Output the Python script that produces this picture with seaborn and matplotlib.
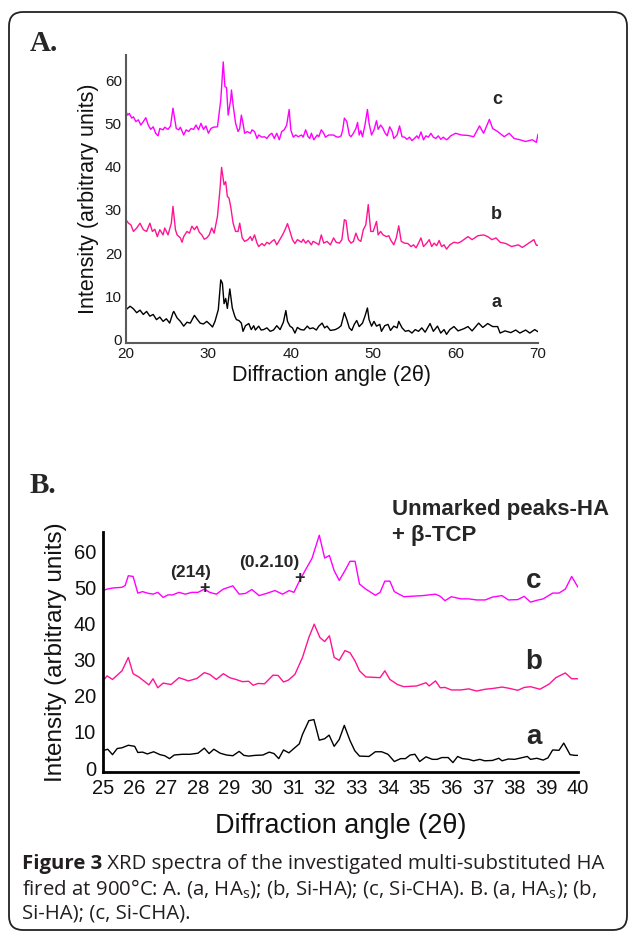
import matplotlib
matplotlib.use('Agg')
import matplotlib.pyplot as plt
from matplotlib.patches import FancyBboxPatch
from matplotlib.transforms import IdentityTransform
import seaborn as sns
import pandas as pd

# ---- panel A: full scan 20-70 deg ----
a_full_x = [20.0, 20.5, 20.9, 21.3, 21.7, 22.1, 22.5, 22.9, 23.3, 23.7,
            24.1, 24.5, 24.9, 25.3, 25.7, 25.8, 26.2, 26.6, 27.0, 27.4,
            27.8, 28.3, 28.6, 29.0, 29.4, 29.8, 30.2, 30.5, 30.8, 31.2,
            31.5, 31.7, 31.9, 32.1, 32.3, 32.6, 32.9, 33.2, 33.4, 33.7,
            34.0, 34.2, 34.5, 34.9, 35.2, 35.5, 35.7, 36.1, 36.4, 36.7,
            37.1, 37.5, 37.9, 38.3, 38.7, 39.1, 39.4, 39.6, 39.9, 40.2,
            40.5, 40.8, 41.2, 41.6, 42.0, 42.3, 42.7, 43.1, 43.4, 43.8,
            44.1, 44.4, 44.8, 45.4, 45.8, 46.1, 46.5, 46.8, 47.1, 47.4,
            47.7, 48.0, 48.3, 48.7, 49.0, 49.3, 49.5, 49.8, 50.1, 50.4,
            50.8, 51.0, 51.4, 51.8, 52.1, 52.5, 52.9, 53.1, 53.5, 53.9,
            54.3, 54.7, 55.1, 55.5, 55.9, 56.3, 56.6, 56.9, 57.3, 57.8,
            58.2, 58.6, 58.9, 59.3, 59.8, 60.3, 61.0, 61.5, 62.0, 62.8,
            63.3, 63.9, 64.5, 65.1, 65.4, 66.0, 66.7, 67.3, 67.8, 68.5,
            69.0, 69.6, 70.0]
a_full_y = [6.9, 7.7, 7.1, 6.2, 6.8, 5.8, 6.5, 5.4, 5.8, 4.6,
            5.2, 4.2, 4.8, 3.8, 6.2, 6.5, 5.0, 4.2, 3.1, 4.0,
            3.8, 5.6, 4.8, 3.8, 3.6, 4.2, 3.5, 2.9, 4.2, 6.9,
            13.8, 13.0, 8.3, 9.5, 7.2, 11.7, 7.3, 5.4, 4.6, 4.4,
            3.8, 1.9, 3.2, 3.7, 2.3, 3.2, 2.2, 3.1, 2.2, 2.3,
            2.7, 1.9, 2.2, 3.2, 2.3, 4.0, 6.7, 4.2, 3.1, 2.7,
            1.5, 2.8, 2.3, 2.2, 3.1, 2.5, 2.7, 2.2, 3.1, 3.8,
            2.7, 3.1, 2.1, 2.3, 2.7, 3.2, 6.2, 4.6, 2.7, 2.1,
            3.5, 4.4, 3.0, 3.8, 5.4, 7.3, 4.6, 3.1, 4.2, 3.1,
            3.5, 1.9, 3.2, 3.5, 2.1, 3.1, 2.7, 4.2, 2.7, 1.9,
            2.1, 1.5, 2.3, 1.9, 2.7, 1.7, 2.7, 3.7, 1.9, 3.1,
            1.5, 2.3, 1.2, 2.3, 3.0, 2.0, 2.5, 3.0, 2.0, 3.8,
            2.8, 3.7, 3.0, 3.0, 1.5, 2.0, 1.6, 2.2, 1.5, 2.2,
            1.5, 2.3, 1.8]

b_full_x = [20.0, 20.3, 20.6, 20.9, 21.3, 21.7, 22.1, 22.5, 22.9, 23.2,
            23.5, 23.8, 24.1, 24.5, 24.7, 25.1, 25.5, 25.7, 26.0, 26.2,
            26.6, 26.8, 27.0, 27.4, 27.7, 28.0, 28.3, 28.6, 28.9, 29.2,
            29.5, 29.8, 30.1, 30.4, 30.7, 31.1, 31.4, 31.6, 31.9, 32.1,
            32.3, 32.5, 32.7, 33.0, 33.3, 33.6, 33.8, 34.1, 34.4, 34.8,
            35.1, 35.3, 35.6, 35.9, 36.1, 36.5, 36.8, 37.1, 37.4, 37.7,
            38.0, 38.3, 38.7, 39.0, 39.3, 39.6, 39.9, 40.2, 40.5, 40.8,
            41.3, 41.5, 41.8, 42.1, 42.5, 42.7, 43.1, 43.4, 43.7, 44.0,
            44.4, 44.8, 45.2, 45.5, 45.9, 46.2, 46.5, 46.7, 47.0, 47.3,
            47.6, 47.9, 48.2, 48.5, 48.8, 49.1, 49.4, 49.7, 50.0, 50.4,
            50.6, 50.9, 51.2, 51.6, 51.9, 52.1, 52.5, 52.8, 53.1, 53.4,
            53.8, 54.2, 54.6, 54.9, 55.2, 55.5, 55.8, 56.1, 56.5, 56.8,
            57.1, 57.4, 57.7, 58.0, 58.3, 58.6, 58.9, 59.3, 59.8, 60.3,
            60.7, 61.5, 62.0, 62.7, 63.4, 63.9, 64.4, 64.9, 65.4, 66.1,
            66.8, 67.6, 68.1, 68.8, 69.5, 69.8, 70.0]
b_full_y = [27.7, 26.9, 26.5, 25.0, 25.8, 26.9, 25.4, 25.0, 26.9, 25.0,
            25.5, 23.8, 25.4, 24.2, 25.8, 24.2, 26.9, 30.8, 25.4, 24.2,
            23.5, 22.5, 23.8, 25.0, 24.6, 26.2, 25.4, 26.2, 24.8, 24.2,
            23.2, 23.5, 24.2, 25.8, 24.6, 28.5, 34.6, 39.8, 35.8, 36.5,
            33.1, 32.7, 30.8, 26.9, 25.0, 25.0, 26.9, 23.5, 22.7, 23.1,
            23.8, 22.9, 24.2, 22.3, 21.5, 22.2, 21.7, 22.5, 22.1, 22.7,
            23.1, 21.9, 23.2, 24.2, 25.4, 26.8, 25.0, 23.1, 22.2, 23.1,
            22.5, 23.2, 22.3, 22.9, 21.9, 22.7, 22.3, 21.9, 24.2, 22.3,
            22.7, 21.9, 23.5, 22.5, 22.3, 23.1, 27.7, 27.5, 23.1, 22.3,
            22.7, 24.6, 23.1, 22.7, 25.4, 26.5, 31.2, 25.0, 25.0, 27.3,
            24.2, 25.0, 24.2, 23.8, 24.0, 23.1, 21.9, 23.5, 26.3, 22.7,
            22.3, 22.2, 21.5, 21.9, 21.2, 22.3, 23.5, 21.5, 22.3, 23.1,
            21.5, 22.3, 21.7, 22.9, 21.5, 21.9, 20.9, 21.9, 22.5, 22.3,
            22.7, 23.8, 23.1, 24.0, 24.2, 23.8, 23.1, 23.5, 22.5, 22.2,
            21.5, 21.9, 21.3, 22.2, 23.1, 21.8, 21.8]

c_full_x = [20.0, 20.2, 20.4, 20.7, 20.9, 21.2, 21.5, 21.8, 22.1, 22.4,
            22.7, 23.0, 23.3, 23.6, 23.9, 24.1, 24.5, 24.7, 25.1, 25.4,
            25.7, 25.8, 26.1, 26.4, 26.6, 27.0, 27.3, 27.6, 27.9, 28.2,
            28.5, 28.8, 29.1, 29.4, 29.7, 30.0, 30.3, 30.6, 31.1, 31.3,
            31.5, 31.8, 32.0, 32.2, 32.4, 32.7, 32.8, 33.0, 33.3, 33.6,
            33.8, 34.0, 34.2, 34.4, 34.7, 35.1, 35.3, 35.6, 35.9, 36.1,
            36.5, 36.8, 37.1, 37.4, 37.7, 38.0, 38.3, 38.6, 38.9, 39.2,
            39.5, 39.8, 40.0, 40.3, 40.6, 40.9, 41.3, 41.5, 41.8, 42.1,
            42.3, 42.5, 42.8, 43.2, 43.4, 43.7, 44.0, 44.2, 44.6, 45.2,
            45.5, 45.8, 46.1, 46.3, 46.5, 46.8, 47.1, 47.3, 47.6, 47.9,
            48.1, 48.3, 48.5, 48.7, 49.0, 49.3, 49.5, 49.8, 50.1, 50.4,
            50.6, 50.9, 51.2, 51.4, 51.7, 52.0, 52.3, 52.5, 52.9, 53.2,
            53.5, 53.8, 54.1, 54.4, 54.7, 55.0, 55.3, 55.5, 55.8, 56.1,
            56.4, 56.7, 57.0, 57.3, 57.6, 57.9, 58.2, 58.5, 58.9, 59.1,
            59.4, 60.0, 60.7, 61.5, 62.2, 62.9, 63.4, 64.1, 64.5, 65.1,
            65.9, 66.5, 67.1, 67.8, 68.5, 69.3, 69.8, 70.0]
c_full_y = [52.7, 51.9, 52.3, 51.2, 51.5, 50.4, 50.8, 49.6, 50.4, 51.3,
            49.6, 48.6, 49.2, 47.7, 47.1, 48.8, 48.5, 49.1, 48.6, 49.4,
            53.5, 52.3, 48.8, 48.5, 49.1, 47.3, 48.5, 48.1, 48.8, 48.6,
            49.6, 48.5, 50.0, 48.6, 49.4, 47.7, 48.8, 49.1, 49.2, 52.3,
            55.4, 64.2, 58.5, 58.3, 51.9, 55.4, 57.7, 54.2, 50.0, 48.1,
            48.8, 51.9, 50.0, 47.7, 48.1, 47.7, 48.5, 48.1, 46.5, 47.3,
            46.8, 46.9, 46.5, 47.3, 47.7, 46.5, 47.7, 46.2, 48.1, 48.5,
            49.6, 53.2, 48.5, 46.8, 47.3, 46.9, 47.3, 46.8, 48.5, 46.9,
            46.5, 47.7, 46.2, 47.3, 46.9, 48.5, 47.7, 46.8, 47.3, 47.3,
            46.9, 46.8, 47.1, 48.5, 51.2, 50.4, 47.3, 46.9, 47.7, 48.8,
            50.2, 47.3, 48.3, 46.9, 49.6, 53.2, 50.0, 47.3, 48.5, 50.6,
            48.6, 49.6, 48.8, 47.9, 47.1, 49.2, 48.1, 46.5, 47.3, 49.4,
            46.9, 46.8, 46.3, 46.8, 46.0, 46.5, 47.1, 46.5, 48.0, 46.2,
            47.1, 46.8, 47.7, 46.8, 46.5, 47.1, 46.3, 46.8, 46.2, 46.5,
            47.1, 47.7, 47.3, 47.2, 46.9, 49.4, 47.7, 50.9, 48.8, 48.1,
            46.9, 47.7, 46.5, 46.2, 45.8, 46.2, 45.6, 47.5]

# ---- panel B: zoom 25-40 deg ----
a_zoom_x = [25.0, 25.15, 25.3, 25.45, 25.6, 25.8, 26.0, 26.1, 26.25, 26.4,
            26.6, 26.8, 26.95, 27.1, 27.25, 27.5, 27.75, 28.0, 28.2, 28.35,
            28.5, 28.7, 28.9, 29.1, 29.3, 29.45, 29.6, 29.8, 30.05, 30.25,
            30.4, 30.55, 30.7, 30.87, 31.2, 31.3, 31.5, 31.66, 31.83, 32.0,
            32.14, 32.3, 32.46, 32.62, 32.8, 32.95, 33.1, 33.4, 33.6, 33.8,
            34.0, 34.2, 34.4, 34.55, 34.7, 34.85, 35.0, 35.2, 35.4, 35.55,
            35.7, 35.9, 36.05, 36.2, 36.35, 36.55, 36.7, 36.9, 37.05, 37.3,
            37.5, 37.6, 37.8, 38.0, 38.2, 38.4, 38.5, 38.7, 38.9, 39.05,
            39.2, 39.4, 39.55, 39.75, 39.9, 40.0]
a_zoom_y = [4.8, 5.2, 3.7, 5.4, 5.6, 6.3, 6.0, 4.3, 4.4, 3.9,
            4.5, 3.7, 3.4, 2.6, 3.6, 3.8, 3.8, 4.1, 5.5, 4.0,
            5.2, 4.1, 3.6, 3.4, 4.6, 3.5, 3.3, 3.5, 3.6, 4.4,
            4.0, 2.6, 5.0, 4.2, 6.7, 9.3, 13.1, 13.4, 7.7, 8.1,
            9.1, 6.0, 7.9, 11.8, 7.6, 4.8, 3.3, 3.2, 4.5, 4.5,
            3.8, 1.8, 2.6, 2.6, 3.6, 3.8, 1.8, 3.1, 2.4, 2.4,
            2.9, 2.9, 1.5, 3.2, 2.6, 2.4, 2.0, 2.4, 2.0, 2.1,
            2.7, 2.0, 2.5, 2.4, 2.8, 3.2, 2.4, 2.7, 2.2, 2.8,
            5.0, 4.9, 6.9, 3.7, 3.5, 3.5]

b_zoom_x = [25.0, 25.13, 25.3, 25.6, 25.8, 25.95, 26.13, 26.45, 26.58, 26.73,
            26.9, 27.15, 27.4, 27.7, 27.97, 28.2, 28.37, 28.58, 28.8, 29.0,
            29.2, 29.4, 29.6, 29.74, 29.9, 30.1, 30.37, 30.53, 30.7, 30.85,
            31.06, 31.3, 31.5, 31.67, 31.85, 32.0, 32.15, 32.3, 32.46, 32.64,
            32.8, 32.96, 33.1, 33.3, 33.75, 33.9, 34.06, 34.3, 34.5, 34.9,
            35.2, 35.3, 35.5, 35.65, 35.8, 36.0, 36.3, 36.55, 36.8, 37.07,
            37.3, 37.6, 37.8, 38.1, 38.3, 38.5, 38.8, 39.1, 39.3, 39.6,
            39.8, 40.0]
b_zoom_y = [24.1, 25.5, 24.5, 26.9, 30.6, 26.1, 25.2, 23.0, 24.7, 22.2,
            23.5, 23.1, 25.0, 24.1, 24.8, 26.4, 25.9, 24.5, 26.1, 25.0,
            24.5, 23.9, 24.0, 22.9, 23.4, 23.3, 25.7, 25.6, 23.8, 24.3,
            25.9, 30.6, 36.1, 39.8, 36.1, 35.0, 36.6, 30.6, 29.8, 32.5,
            31.9, 29.6, 26.9, 25.2, 25.0, 26.9, 24.5, 23.1, 22.5, 22.7,
            23.6, 22.7, 24.1, 22.2, 22.3, 21.6, 21.6, 21.9, 21.3, 21.8,
            22.0, 22.4, 22.1, 21.5, 22.3, 22.5, 21.8, 23.3, 25.0, 26.3,
            24.7, 24.7]

c_zoom_x = [25.0, 25.13, 25.3, 25.6, 25.7, 25.8, 25.95, 26.1, 26.25, 26.4,
            26.58, 26.73, 26.9, 27.05, 27.2, 27.4, 27.6, 27.8, 28.0, 28.2,
            28.37, 28.58, 28.8, 29.1, 29.3, 29.5, 29.7, 29.93, 30.16, 30.43,
            30.67, 30.88, 31.03, 31.2, 31.38, 31.6, 31.83, 32.0, 32.15, 32.3,
            32.46, 32.64, 32.8, 32.96, 33.1, 33.3, 33.6, 33.75, 33.9, 34.06,
            34.2, 34.5, 35.1, 35.5, 35.65, 35.8, 36.0, 36.3, 36.55, 36.8,
            37.07, 37.3, 37.6, 37.8, 38.1, 38.3, 38.5, 38.7, 38.9, 39.2,
            39.4, 39.6, 39.8, 40.0]
c_zoom_y = [49.1, 49.5, 49.8, 50.0, 50.5, 53.2, 53.0, 48.4, 48.8, 48.4,
            48.1, 48.6, 47.2, 47.9, 47.9, 48.6, 48.1, 48.6, 48.6, 49.5,
            48.6, 48.1, 49.5, 50.4, 48.1, 48.3, 49.4, 47.7, 48.3, 49.1,
            48.1, 49.1, 48.6, 51.7, 54.6, 58.0, 64.4, 58.1, 58.8, 54.6,
            51.9, 54.6, 57.2, 57.2, 50.9, 49.5, 47.8, 48.6, 51.7, 51.7,
            48.8, 47.4, 47.7, 48.1, 47.5, 46.3, 47.4, 46.8, 46.8, 46.5,
            46.5, 47.3, 47.7, 46.5, 46.6, 47.5, 45.9, 46.4, 46.8, 48.4,
            48.4, 49.5, 53.0, 50.0]

# beta-TCP reflections marked with "+" in panel B
tcp_labels = ['(214)', '(0.2.10)']
tcp_angles = [28.19, 31.22]
tcp_heights = [49.8, 52.4]

palette = {'a': 'black', 'b': '#FF1493', 'c': '#FF00FF'}


def long_df(series):
    frames = []
    for name, (x, y) in series.items():
        frames.append(pd.DataFrame({'angle': x, 'intensity': y, 'sample': name}))
    return pd.concat(frames, ignore_index=True)


df_full = long_df({'a': (a_full_x, a_full_y), 'b': (b_full_x, b_full_y),
                   'c': (c_full_x, c_full_y)})
df_zoom = long_df({'a': (a_zoom_x, a_zoom_y), 'b': (b_zoom_x, b_zoom_y),
                   'c': (c_zoom_x, c_zoom_y)})

sns.set_theme(style='white')
plt.rcParams['font.family'] = ['Liberation Sans', 'DejaVu Sans']
plt.rcParams['mathtext.fontset'] = 'custom'
plt.rcParams['mathtext.rm'] = 'Open Sans'
plt.rcParams['mathtext.it'] = 'Open Sans:italic'
plt.rcParams['mathtext.bf'] = 'Open Sans:bold'

W, H = 629, 933
fig = plt.figure(figsize=(W / 100, H / 100), dpi=100)


def px_rect(left, top, right, bottom):
    return [left / W, 1 - bottom / H, (right - left) / W, (bottom - top) / H]


ax_a = fig.add_axes(px_rect(126, 55, 538, 343))
ax_b = fig.add_axes(px_rect(103, 532, 578, 772))

sns.lineplot(data=df_full, x='angle', y='intensity', hue='sample', palette=palette,
             estimator=None, sort=False, legend=False, lw=1.0, ax=ax_a)
sns.lineplot(data=df_zoom, x='angle', y='intensity', hue='sample', palette=palette,
             estimator=None, sort=False, legend=False, lw=1.0, ax=ax_b)

# panel A styling
ax_a.set_xlim(20, 70)
ax_a.set_ylim(-0.8, 65.8)
ax_a.set_xticks(range(20, 71, 10))
ax_a.set_yticks(range(0, 61, 10))
for s in ['top', 'right']:
    ax_a.spines[s].set_visible(False)
for s in ['left', 'bottom']:
    ax_a.spines[s].set_color('#5a5a5a')
    ax_a.spines[s].set_linewidth(1.5)
ax_a.tick_params(length=0, labelsize=11, labelcolor='#1a1a1a', pad=3)
ax_a.set_xlabel('Diffraction angle (2θ)', fontsize=15.5, labelpad=3, color='#111')
ax_a.set_ylabel('Intensity (arbitrary units)', fontsize=15.5, labelpad=4, color='#111')
for lab, y in zip(['c', 'b', 'a'], [55.5, 28.8, 8.5]):
    ax_a.text(65.0, y, lab, fontsize=13, fontweight='bold', ha='center', va='center')

# panel B styling
ax_b.set_xlim(25, 40)
ax_b.set_ylim(-1.1, 65.3)
ax_b.set_xticks(range(25, 41))
ax_b.set_yticks(range(0, 61, 10))
for s in ['top', 'right']:
    ax_b.spines[s].set_visible(False)
for s in ['left', 'bottom']:
    ax_b.spines[s].set_color('black')
    ax_b.spines[s].set_linewidth(2)
ax_b.tick_params(length=0, labelsize=14.5, labelcolor='#111', pad=5)
ax_b.set_xlabel('Diffraction angle (2θ)', fontsize=19.5, labelpad=11, color='#111')
ax_b.set_ylabel('Intensity (arbitrary units)', fontsize=17.5, labelpad=5, color='#111')
for lab, y in zip(['c', 'b', 'a'], [51.8, 29.2, 8.7]):
    ax_b.text(38.6, y, lab, fontsize=20, fontweight='bold', ha='center', va='center')
for lab, x, y, dx in zip(tcp_labels, tcp_angles, tcp_heights, [-10, -22]):
    ax_b.text(x, y, '+', fontsize=13, fontweight='bold', ha='center', va='center')
    ax_b.annotate(lab, (x, y), xytext=(dx, 6), textcoords='offset points',
                  fontsize=12.5, fontweight='bold', ha='center', va='bottom')

# panel letters and legend note
fig.text(30 / W, 1 - 51 / H, 'A.', family='Liberation Serif', fontsize=21,
         fontweight='bold', va='baseline')
fig.text(30 / W, 1 - 493 / H, 'B.', family='Liberation Serif', fontsize=21,
         fontweight='bold', va='baseline')
fig.text(392 / W, 1 - 510 / H, 'Unmarked peaks-HA', fontsize=16, fontweight='bold',
         va='center')
fig.text(392 / W, 1 - 535 / H, '+ β-TCP', fontsize=16, fontweight='bold', va='center')

# caption
cap_kw = dict(family='Open Sans', fontsize=14.7, color='#231f20', va='center')
t1 = fig.text(22 / W, 1 - 864 / H, 'Figure 3', fontweight='bold', **cap_kw)
fig.canvas.draw()
bb = t1.get_window_extent(fig.canvas.get_renderer())
fig.text(bb.x1 / W, 1 - 864 / H, ' XRD spectra of the investigated multi-substituted HA',
         **cap_kw)
fig.text(22 / W, 1 - 889 / H,
         r'fired at 900°C: A. (a, HA$_\mathrm{s}$); (b, Si-HA); (c, Si-CHA). B. (a, HA$_\mathrm{s}$); (b,',
         **cap_kw)
fig.text(22 / W, 1 - 913 / H, 'Si-HA); (c, Si-CHA).', **cap_kw)

# rounded frame around the whole figure
frame = FancyBboxPatch((9, 3), 618, 918, boxstyle='round,pad=0,rounding_size=14',
                       transform=IdentityTransform(), fill=False, lw=1.3, ec='#222222')
fig.add_artist(frame)

fig.savefig('out.png', dpi=100)
